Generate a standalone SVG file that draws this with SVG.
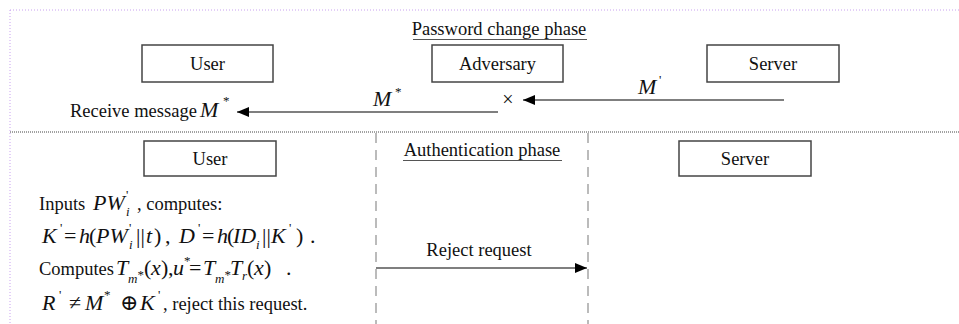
<svg xmlns="http://www.w3.org/2000/svg" width="959" height="324" viewBox="0 0 959 324" font-family="Liberation Serif, Tinos, Times New Roman, DejaVu Serif, serif">
<style>
text{font-family:Liberation Serif, Tinos, Times New Roman, DejaVu Serif, serif}
.t{font-size:18.5px;fill:#111}
.m{font-style:italic;font-size:22px;fill:#111}
.s{font-size:22px;fill:#111}
.sub{font-style:italic;font-size:13px;fill:#111}
.sup{font-size:13px;fill:#111}
.box{fill:#fff;stroke:#444;stroke-width:1.5}
.conn{stroke:#555;stroke-width:1.5;fill:none}
.ul{stroke:#555;stroke-width:1}
</style>
<defs>
<marker id="ah" markerUnits="userSpaceOnUse" markerWidth="12" markerHeight="10" refX="12" refY="5" orient="auto">
<path d="M0,0 L12,5 L0,10 Z" fill="#000"/>
</marker>
</defs>
<rect width="959" height="324" fill="#fff"/>
<g id="frame">
<line x1="10" y1="10" x2="959" y2="10" stroke="#c8a0f0" stroke-width="1" stroke-dasharray="1 2"/>
<line x1="10" y1="10" x2="10" y2="324" stroke="#c8a0f0" stroke-width="1" stroke-dasharray="1 2"/>
<line x1="10" y1="132" x2="959" y2="132" stroke="#444" stroke-width="1" stroke-dasharray="1 1"/>
<line x1="376" y1="133" x2="376" y2="324" stroke="#bbb" stroke-width="2" stroke-dasharray="10 7"/>
<line x1="588" y1="133" x2="588" y2="324" stroke="#bbb" stroke-width="2" stroke-dasharray="10 7"/>
</g>
<g id="titles">
<text class="t" x="499" y="35" text-anchor="middle">Password change phase</text>
<line class="ul" x1="413" y1="39.5" x2="587" y2="39.5"/>
<text class="t" x="482" y="156" text-anchor="middle">Authentication phase</text>
<line class="ul" x1="403" y1="160.5" x2="562" y2="160.5"/>
</g>
<g id="user-top"><rect class="box" x="142" y="45" width="131" height="37"/><text class="t" x="207.5" y="70" text-anchor="middle">User</text></g>
<g id="adversary"><rect class="box" x="432" y="45" width="131" height="37"/><text class="t" x="497.5" y="70" text-anchor="middle">Adversary</text></g>
<g id="server-top"><rect class="box" x="707" y="45" width="132" height="37"/><text class="t" x="773" y="70" text-anchor="middle">Server</text></g>
<g id="user-bottom"><rect class="box" x="144" y="141" width="132" height="35"/><text class="t" x="210" y="165" text-anchor="middle">User</text></g>
<g id="server-bottom"><rect class="box" x="679" y="141" width="132" height="35"/><text class="t" x="745" y="165" text-anchor="middle">Server</text></g>
<g id="connectors">
<line class="conn" x1="784" y1="100" x2="523" y2="100" marker-end="url(#ah)"/>
<line class="conn" x1="498" y1="112" x2="237" y2="112" marker-end="url(#ah)"/>
<line class="conn" x1="376" y1="268" x2="587" y2="268" marker-end="url(#ah)"/>
</g>
<g id="labels">
<text class="m" x="638" y="94">M</text><text class="sup" x="659" y="84">'</text>
<text class="m" x="373" y="106">M</text><text class="sup" x="395" y="96">*</text>
<text x="508" y="106" text-anchor="middle" style="font-size:20px;fill:#111">×</text>
<text class="t" x="70" y="117">Receive message</text>
<text class="m" x="200" y="117">M</text><text class="sup" x="223" y="105">*</text>
<text class="t" x="479" y="256" text-anchor="middle">Reject request</text>
</g>
<g id="user-computation">
<text class="t" x="39" y="210">Inputs</text>
<text class="m" x="93" y="210">PW</text><text class="sup" x="126" y="199">'</text><text class="sub" x="126" y="216">i</text>
<text class="t" x="137" y="210">, computes:</text>

<text class="m" x="42" y="243">K</text><text class="sup" x="60" y="232">'</text>
<text class="s" x="64" y="243">=</text>
<text class="m" x="79" y="243">h</text><text class="s" x="89" y="243">(</text>
<text class="m" x="96" y="243">PW</text><text class="sup" x="129" y="232">'</text><text class="sub" x="129" y="249">i</text>
<text class="s" x="136" y="243">||</text><text class="m" x="146" y="243">t</text><text class="s" x="154" y="243">)</text>
<text class="s" x="165" y="243">,</text>
<text class="m" x="179" y="243">D</text><text class="sup" x="198" y="232">'</text>
<text class="s" x="202" y="243">=</text>
<text class="m" x="217" y="243">h</text><text class="s" x="227" y="243">(</text>
<text class="m" x="233" y="243">ID</text><text class="sub" x="256" y="249">i</text>
<text class="s" x="262" y="243">||</text>
<text class="m" x="271" y="243">K</text><text class="sup" x="289" y="232">'</text>
<text class="s" x="296" y="243">)</text><text class="s" x="310" y="243">.</text>

<text class="t" x="39" y="275">Computes</text>
<text class="m" x="116" y="275">T</text><text class="sub" x="128" y="283">m</text><text class="sup" x="137.5" y="279">*</text>
<text class="s" x="144" y="275">(</text><text class="m" x="151" y="275">x</text><text class="s" x="161" y="275">)</text>
<text class="s" x="168" y="275">,</text>
<text class="m" x="173" y="275">u</text><text class="sup" x="184" y="265">*</text>
<text class="s" x="189" y="275">=</text>
<text class="m" x="203" y="275">T</text><text class="sub" x="215" y="283">m</text><text class="sup" x="224.5" y="279">*</text>
<text class="m" x="230" y="275">T</text><text class="sub" x="242" y="280">r</text>
<text class="s" x="247" y="275">(</text><text class="m" x="254" y="275">x</text><text class="s" x="264" y="275">)</text>
<text class="s" x="286" y="275">.</text>

<text class="m" x="42" y="310">R</text><text class="sup" x="59" y="299">'</text>
<text class="s" x="69" y="310">≠</text>
<text class="m" x="85" y="310">M</text><text class="sup" x="104" y="299">*</text>
<text class="s" x="120" y="310">⊕</text>
<text class="m" x="140" y="310">K</text><text class="sup" x="158" y="299">'</text>
<text class="t" x="163" y="310">, reject this request.</text>
</g>
</svg>
